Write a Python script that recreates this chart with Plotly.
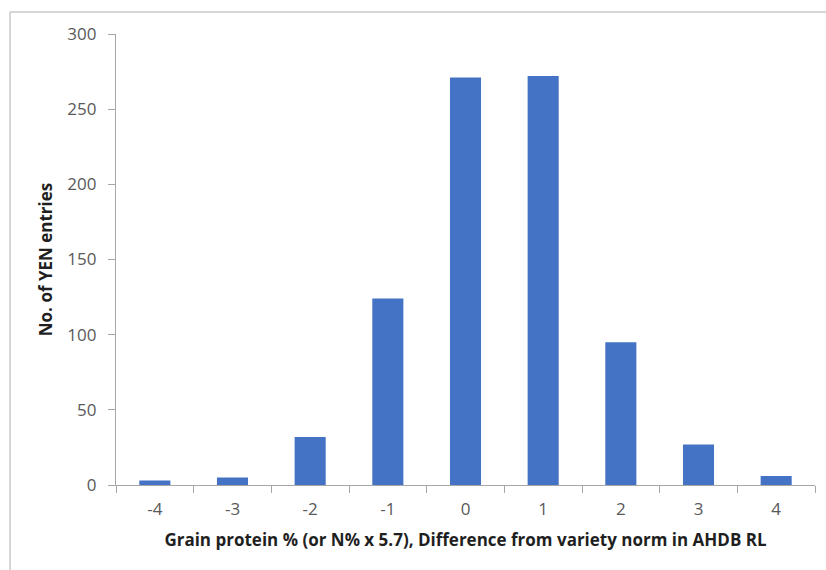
import plotly.graph_objects as go

categories = ["-4", "-3", "-2", "-1", "0", "1", "2", "3", "4"]
entries = [3, 5, 32, 124, 271, 272, 95, 27, 6]
y_ticks = [0, 50, 100, 150, 200, 250, 300]

x_title = "Grain protein % (or N% x 5.7), Difference from variety norm in AHDB RL"
y_title = "No. of YEN entries"

fig = go.Figure(
    go.Bar(
        x=categories,
        y=entries,
        marker=dict(color="#4472C4", line=dict(width=0)),
        width=0.4,
    )
)

axis_col = "#A6A6A6"
tick_font = dict(family="Open Sans", size=17, color="#595959")
title_font = dict(family="Open Sans", size=17, color="#1F1F1F", weight="bold")

fig.update_layout(
    width=826,
    height=570,
    margin=dict(l=116, r=11, t=34, b=85, autoexpand=False),
    paper_bgcolor="white",
    plot_bgcolor="white",
    showlegend=False,
    xaxis=dict(
        type="category",
        range=[-0.5, 8.5],
        showline=True,
        linecolor=axis_col,
        linewidth=1.3,
        ticks="outside",
        tickson="boundaries",
        ticklen=7,
        tickcolor=axis_col,
        tickfont=tick_font,
        ticklabelstandoff=8,
        showgrid=False,
        automargin=False,
        title=dict(text=x_title, font=title_font, standoff=15),
        fixedrange=True,
    ),
    yaxis=dict(
        range=[0, 300],
        tickvals=y_ticks,
        showline=True,
        linecolor=axis_col,
        linewidth=1.3,
        ticks="outside",
        ticklen=7,
        tickcolor=axis_col,
        tickfont=tick_font,
        ticklabelstandoff=8,
        showgrid=False,
        zeroline=False,
        automargin=False,
        title=dict(text=y_title, font=title_font, standoff=10),
        fixedrange=True,
    ),
    shapes=[
        dict(type="line", xref="paper", yref="paper",
             x0=-0.1516, x1=-0.1516, y0=1.0488, y1=-0.2,
             line=dict(color="#C8C8C8", width=1.5)),
        dict(type="line", xref="paper", yref="paper",
             x0=-0.1516, x1=1.02, y0=1.0488, y1=1.0488,
             line=dict(color="#C8C8C8", width=1.5)),
    ],
)

fig.write_html(
    "out.html",
    config={"displayModeBar": False},
    post_script="document.body.style.margin='0';document.body.style.overflow='hidden';",
)
